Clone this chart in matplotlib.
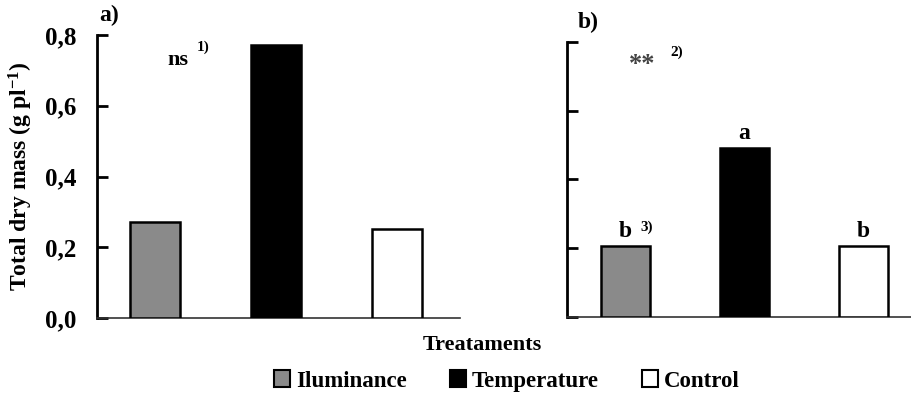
import matplotlib
matplotlib.use("Agg")
import matplotlib.pyplot as plt
from matplotlib.patches import Patch

treatments = ["Iluminance", "Temperature", "Control"]
mass_a = [0.272, 0.772, 0.252]
mass_b = [0.207, 0.492, 0.207]
letters_b = ["b", "a", "b"]
colors = ["#8a8a8a", "#000000", "#ffffff"]
yticks = [0.0, 0.2, 0.4, 0.6, 0.8]
ytick_labels = ["0,0", "0,2", "0,4", "0,6", "0,8"]

plt.rcParams['font.family'] = ['Liberation Serif', 'DejaVu Serif']
plt.rcParams['font.weight'] = 'bold'
plt.rcParams['mathtext.fontset'] = 'custom'
plt.rcParams['mathtext.rm'] = 'Liberation Serif:bold'
plt.rcParams['mathtext.bf'] = 'Liberation Serif:bold'
plt.rcParams['mathtext.it'] = 'Liberation Serif:bold'

W, H = 911, 398
fig = plt.figure(figsize=(W/100, H/100), dpi=100)

def px_axes(l, r, t, b):
    return fig.add_axes([l/W, 1-b/H, (r-l)/W, (b-t)/H])

ax1 = px_axes(97, 460, 35, 318)
ax2 = px_axes(567, 911, 42, 317)

x = range(len(treatments))
for ax, vals, xl in [(ax1, mass_a, (-0.48, 2.52)), (ax2, mass_b, (-0.49, 2.40))]:
    ax.bar(x, vals, width=0.41, color=colors, edgecolor="black", linewidth=1.8, zorder=3)
    ax.set_xlim(*xl)
    ax.set_ylim(0, 0.8)
    ax.set_yticks(yticks)
    ax.set_xticks([])
    for s in ["top", "right"]:
        ax.spines[s].set_visible(False)
    ax.spines["left"].set_linewidth(2)
    ax.spines["bottom"].set_linewidth(1.2)
    ax.spines["bottom"].set_color("#333333")
    ax.tick_params(axis="y", direction="in", length=8, width=2, labelsize=18, pad=15)

ax1.set_yticklabels(ytick_labels, fontweight="bold")
ax2.set_yticklabels([])
ax1.set_ylabel("Total dry mass (g pl$^{-1}$)", fontsize=17, fontweight="bold")
ax1.yaxis.set_label_coords(-0.172, 0.5)

ax1.text(-0.46, 0.825, "a)", fontsize=17, fontweight="bold", ha="left", va="bottom", clip_on=False)
ax2.text(-0.40, 0.825, "b)", fontsize=17, fontweight="bold", ha="left", va="bottom", clip_on=False)

ax1.text(0.19, 0.73, "ns", fontsize=16, fontweight="bold", ha="center", va="center")
ax1.text(0.40, 0.765, "1)", fontsize=11, fontweight="bold", ha="center", va="center")
ax2.text(0.14, 0.735, "**", fontsize=19, fontweight="bold", ha="center", va="center", color="#444444")
ax2.text(0.43, 0.77, "2)", fontsize=11, fontweight="bold", ha="center", va="center")

for i, (v, l) in enumerate(zip(mass_b, letters_b)):
    ax2.text(i, v + 0.012, l, fontsize=17, fontweight="bold", ha="center", va="bottom")
ax2.text(0.18, mass_b[0] + 0.055, "3)", fontsize=11, fontweight="bold", ha="center", va="center")

fig.text(482/W, 1-345/H, "Treataments", fontsize=16, fontweight="bold", ha="center", va="center")

handles = [Patch(facecolor=c, edgecolor="black", linewidth=1.5) for c in colors]
fig.legend(handles, treatments, loc="center", bbox_to_anchor=(507/W, 1-381/H), ncol=3,
           frameon=False, handlelength=0.7, handleheight=0.7,
           handletextpad=0.25, columnspacing=1.9, prop={"weight": "bold", "size": 16.5})

fig.savefig("out.png", dpi=100)
